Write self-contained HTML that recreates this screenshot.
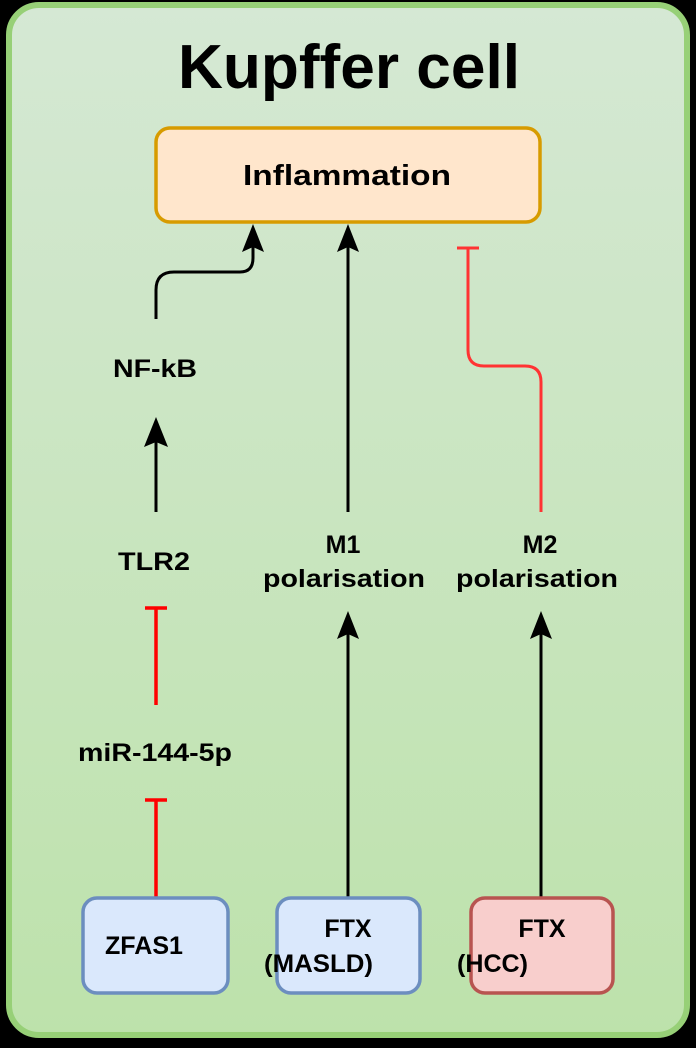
<!DOCTYPE html>
<html><head><meta charset="utf-8"><style>
html,body{margin:0;padding:0;background:#000;}
svg{display:block;}
text{font-family:"Liberation Sans",Arial,sans-serif;font-weight:bold;fill:#000;}
</style></head><body>
<svg width="696" height="1048" viewBox="0 0 696 1048" xmlns="http://www.w3.org/2000/svg">
<defs>
<linearGradient id="bg" x1="0" y1="0" x2="0" y2="1">
<stop offset="0" stop-color="#d5e8d4"/><stop offset="1" stop-color="#bde2ab"/>
</linearGradient>
</defs>
<rect x="0" y="0" width="696" height="1048" fill="#000"/>
<rect x="9" y="5" width="678" height="1030" rx="30" fill="url(#bg)" stroke="#97d077" stroke-width="6"/>
<text x="178" y="88" font-size="62" textLength="342" lengthAdjust="spacingAndGlyphs">Kupffer cell</text>
<rect x="156" y="128" width="384" height="94" rx="14" fill="#ffe6cc" stroke="#d79b00" stroke-width="3.5"/>
<text x="243" y="185" font-size="29" textLength="208" lengthAdjust="spacingAndGlyphs">Inflammation</text>

<path d="M156 319 V290 Q156 272 174 272 H240 Q253 272 253 258 V240" fill="none" stroke="#000" stroke-width="3"/>
<path d="M253 224 L264 252 L253 247 L242 252 Z" fill="#000"/>
<path d="M348 512 V240" fill="none" stroke="#000" stroke-width="3"/>
<path d="M348 224 L359 252 L348 247 L337 252 Z" fill="#000"/>
<path d="M468 248 V350 Q468 366 484 366 H525 Q541 366 541 382 V512" fill="none" stroke="#ff3333" stroke-width="3"/>
<path d="M457 248 H479" stroke="#ff3333" stroke-width="3"/>

<text x="113" y="377" font-size="25" textLength="84" lengthAdjust="spacingAndGlyphs">NF-kB</text>
<path d="M156 512 V430" stroke="#000" stroke-width="3"/>
<path d="M156 417 L168 447 L156 442 L144 447 Z" fill="#000"/>
<text x="118" y="570" font-size="25" textLength="72" lengthAdjust="spacingAndGlyphs">TLR2</text>
<text x="343" y="553" font-size="25" text-anchor="middle">M1</text>
<text x="263" y="587" font-size="25" textLength="162" lengthAdjust="spacingAndGlyphs">polarisation</text>
<text x="540" y="553" font-size="25" text-anchor="middle">M2</text>
<text x="456" y="587" font-size="25" textLength="162" lengthAdjust="spacingAndGlyphs">polarisation</text>

<path d="M156 608 V705" stroke="#ff0000" stroke-width="3.5"/>
<path d="M145 608 H167" stroke="#ff0000" stroke-width="3.5"/>
<text x="78" y="761" font-size="25" textLength="154" lengthAdjust="spacingAndGlyphs">miR-144-5p</text>
<path d="M156 800 V897" stroke="#ff0000" stroke-width="3.5"/>
<path d="M145 800 H167" stroke="#ff0000" stroke-width="3.5"/>

<path d="M348 897 V625" stroke="#000" stroke-width="3"/>
<path d="M348 611 L359 639 L348 634 L337 639 Z" fill="#000"/>
<path d="M541 897 V625" stroke="#000" stroke-width="3"/>
<path d="M541 611 L552 639 L541 634 L530 639 Z" fill="#000"/>

<rect x="83" y="898" width="145" height="95" rx="14" fill="#dae8fc" stroke="#6c8ebf" stroke-width="3.5"/>
<text x="105" y="954" font-size="25" textLength="78" lengthAdjust="spacingAndGlyphs">ZFAS1</text>
<rect x="277" y="898" width="143" height="95" rx="14" fill="#dae8fc" stroke="#6c8ebf" stroke-width="3.5"/>
<text x="348" y="937" font-size="25" text-anchor="middle">FTX</text>
<text x="264" y="972" font-size="25" textLength="109" lengthAdjust="spacingAndGlyphs">(MASLD)</text>
<rect x="471" y="898" width="142" height="95" rx="14" fill="#f8cecc" stroke="#b85450" stroke-width="3.5"/>
<text x="542" y="937" font-size="25" text-anchor="middle">FTX</text>
<text x="457" y="972" font-size="25" textLength="71" lengthAdjust="spacingAndGlyphs">(HCC)</text>
</svg>
</body></html>
